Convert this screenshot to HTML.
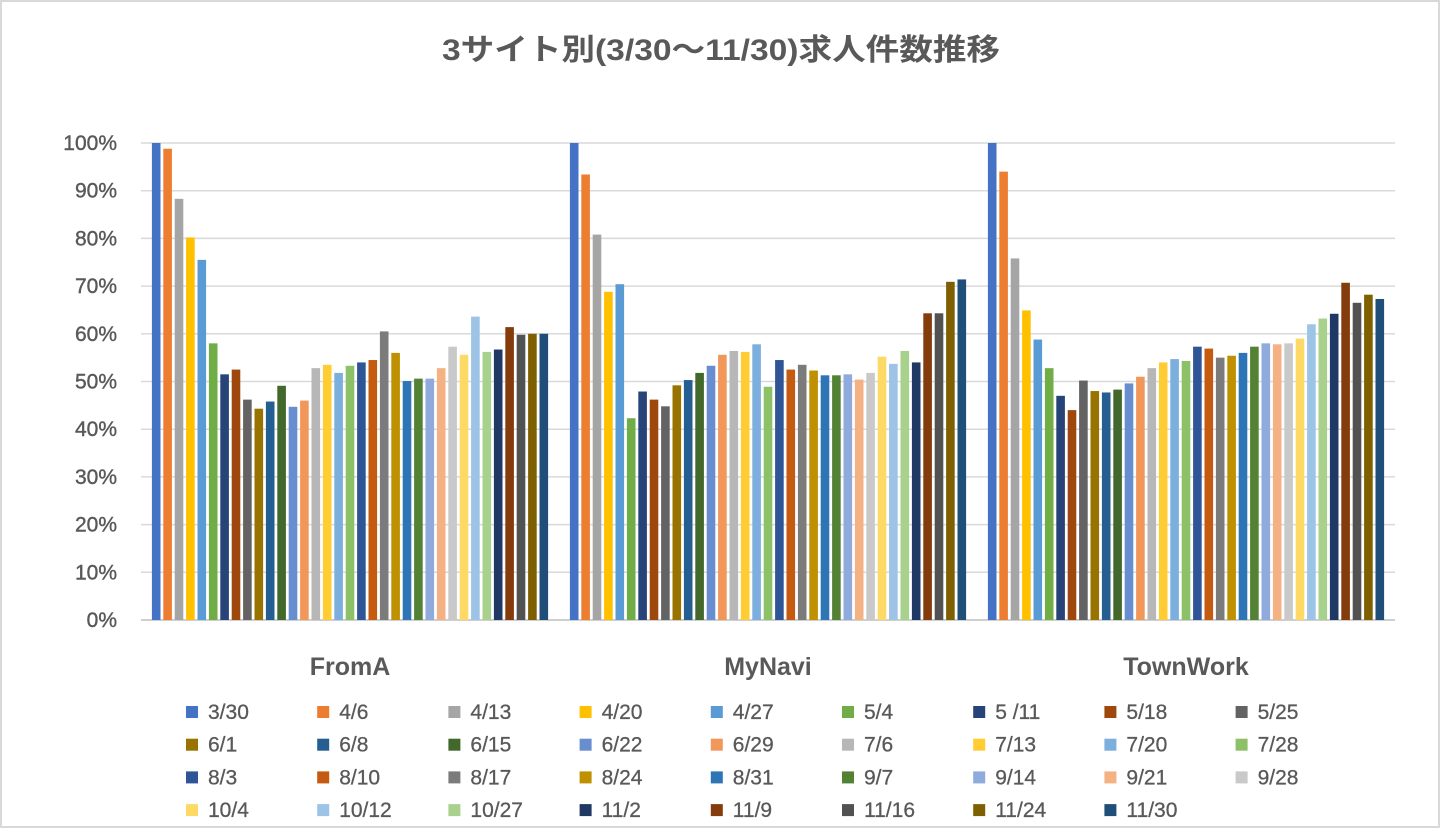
<!DOCTYPE html>
<html><head><meta charset="utf-8"><style>
html,body{margin:0;padding:0;background:#fff;}
#wrap{position:relative;width:1440px;height:828px;overflow:hidden;}
svg text{font-family:"Liberation Sans","Noto Sans CJK JP",sans-serif;}
</style></head><body>
<div id="wrap">
<svg id="chart" width="1440" height="828">
<rect x="1" y="1" width="1438" height="826" fill="#fff" stroke="#d9d9d9" stroke-width="2"/>
<text x="721" y="60" text-anchor="middle" font-size="30" font-weight="bold" fill="#595959" textLength="558" lengthAdjust="spacingAndGlyphs">3サイト別(3/30～11/30)求人件数推移</text>
</svg>
</div>
<script>
const categories=["FromA","MyNavi","TownWork"];
const seriesNames=["3/30","4/6","4/13","4/20","4/27","5/4","5 /11","5/18","5/25","6/1","6/8","6/15","6/22","6/29","7/6","7/13","7/20","7/28","8/3","8/10","8/17","8/24","8/31","9/7","9/14","9/21","9/28","10/4","10/12","10/27","11/2","11/9","11/16","11/24","11/30"];
const seriesColors=["#4472C4","#ED7D31","#A5A5A5","#FFC000","#5B9BD5","#70AD47","#264478","#9E480E","#636363","#997300","#255E91","#43682B","#698ED0","#F1975A","#B7B7B7","#FFCD33","#7CAFDD","#8CC168","#2F5597","#C55A11","#7B7B7B","#BF9000","#2E75B6","#548235","#8FAADC","#F4B183","#C9C9C9","#FFD966","#9DC3E6","#A9D18E","#203864","#843C0C","#525252","#7F6000","#1F4E79"];
const fromA=[100,98.8,88.3,80.2,75.5,58,51.5,52.5,46.2,44.3,45.8,49.1,44.7,46,52.8,53.5,51.8,53.3,54,54.5,60.5,56,50.1,50.6,50.6,52.8,57.3,55.6,63.6,56.2,56.7,61.4,59.8,60,60];
const myNavi=[100,93.4,80.8,68.8,70.4,42.3,47.9,46.2,44.8,49.2,50.3,51.8,53.3,55.6,56.4,56.2,57.8,48.9,54.5,52.5,53.5,52.3,51.3,51.3,51.5,50.4,51.8,55.2,53.7,56.4,54,64.3,64.3,70.9,71.4];
const townWork=[100,94,75.8,64.9,58.8,52.8,47,44,50.2,48,47.7,48.3,49.6,51,52.8,54,54.7,54.3,57.3,56.9,55,55.4,56,57.3,58,57.8,58,59,62,63.2,64.2,70.7,66.5,68.2,67.3];
const yTicks=[0,10,20,30,40,50,60,70,80,90,100];
const values=[fromA,myNavi,townWork];

const NS="http://www.w3.org/2000/svg";
const svg=document.getElementById('chart');
const X0=141,X1=1395,Y0=620,Y1=143;
const groupW=(X1-X0)/categories.length;
const pitch=11.4,barW=8.6;
function yScale(v){return Y0-(v/100)*(Y0-Y1);}
function xBar(c,s){const start=X0+c*groupW+(groupW-pitch*seriesNames.length)/2;return start+s*pitch+(pitch-barW)/2;}
function mk(tag,attrs){const e=document.createElementNS(NS,tag);for(const k in attrs)e.setAttribute(k,attrs[k]);svg.appendChild(e);return e;}

yTicks.forEach(t=>{
  const y=yScale(t);
  const l=mk('line',{x1:X0,x2:X1,y1:y,y2:y,stroke:t===0?'#bfbfbf':'#d9d9d9','stroke-width':1.5});
  
  
  const tx=mk('text',{x:117,y:y+7,'text-anchor':'end','font-size':21,fill:'#595959','stroke':'#595959','stroke-width':0.4});
  tx.textContent=t+'%';
  
  
});

values.forEach((arr,c)=>{
  arr.forEach((v,s)=>{
    const y=yScale(v);
    const r=mk('rect',{x:xBar(c,s),y:y,width:barW,height:Y0-y,fill:seriesColors[s]});
    
    
  });
  const t=mk('text',{x:X0+c*groupW+groupW/2,y:675,'text-anchor':'middle','font-size':25,'font-weight':'bold',fill:'#595959'});
  t.textContent=categories[c];
  
  
});

seriesNames.forEach((n,i)=>{
  const col=i%9,row=Math.floor(i/9);
  const x=186+col*131.2,y=712+row*32.7;
  const r=mk('rect',{x:x,y:y-6,width:12,height:12,fill:seriesColors[i]});
  
  
  const t=mk('text',{x:x+22,y:y+7,'font-size':21,fill:'#595959','stroke':'#595959','stroke-width':0.3});
  t.textContent=' '+n;
  
  
});
</script>
</body></html>
